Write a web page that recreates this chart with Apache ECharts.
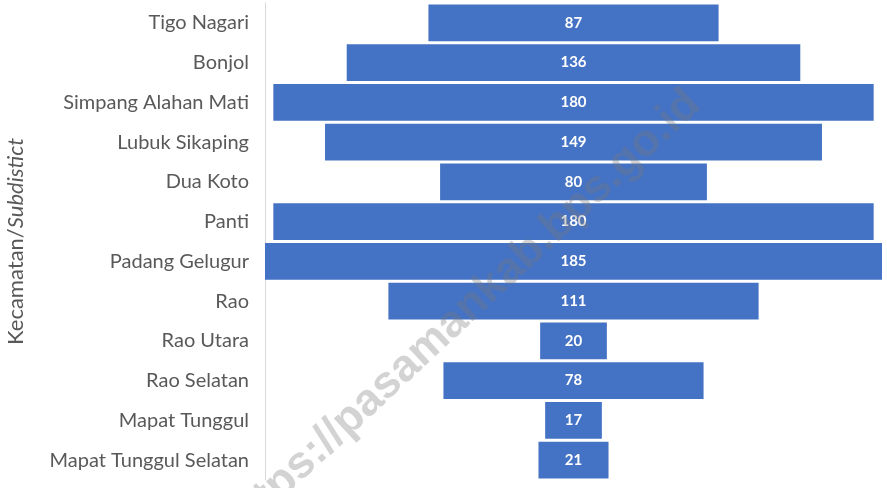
<!DOCTYPE html>
<html>
<head>
<meta charset="utf-8">
<script src="https://cdn.jsdelivr.net/npm/echarts@6/dist/echarts.min.js"></script>
<style>
    html, body { margin: 0; padding: 0; background: #fff; }
    #funnel_bar { width: 887px; height: 488px; }
</style>
</head>
<body>
<div id="funnel_bar"></div>
<script>
// Data
var categories = ['Tigo Nagari', 'Bonjol', 'Simpang Alahan Mati', 'Lubuk Sikaping', 'Dua Koto', 'Panti',
    'Padang Gelugur', 'Rao', 'Rao Utara', 'Rao Selatan', 'Mapat Tunggul', 'Mapat Tunggul Selatan'];
var values = [87, 136, 180, 149, 80, 180, 185, 111, 20, 78, 17, 21];
var axisMax = 185;

// Invisible offset so every bar sits centred
var offsets = values.map(function(v) { return (axisMax - v) / 2; });

var chartEl = document.getElementById('funnel_bar');
var chart = echarts.init(chartEl);

chart.setOption({
    animation: false,
    textStyle: {
        fontFamily: 'Lato, sans-serif'
    },
    grid: {
        left: 265,
        right: 5,
        top: 3,
        bottom: 8,
        containLabel: false,
        outerBoundsMode: 'none'
    },
    xAxis: {
        type: 'value',
        min: 0,
        max: axisMax,
        show: false
    },
    yAxis: {
        type: 'category',
        inverse: true,
        data: categories,
        name: '{a|Kecamatan/}{b|Subdistict}',
        nameLocation: 'middle',
        nameGap: 238,
        nameRotate: 90,
        nameTextStyle: {
            rich: {
                a: { fontSize: 22, color: '#595959', fontFamily: 'Lato, sans-serif' },
                b: { fontSize: 22, color: '#595959', fontStyle: 'italic', fontFamily: 'Lato, sans-serif' }
            }
        },
        axisLine: {
            lineStyle: { color: '#d9d9d9', width: 1 }
        },
        axisTick: { show: false },
        axisLabel: {
            color: '#595959',
            fontSize: 20,
            margin: 16
        }
    },
    series: [
        {
            type: 'bar',
            stack: 'total',
            data: offsets,
            itemStyle: { color: 'transparent' },
            barCategoryGap: '7%',
            silent: true
        },
        {
            type: 'bar',
            stack: 'total',
            data: values,
            itemStyle: { color: '#4472c4' },
            barCategoryGap: '7%',
            label: {
                show: true,
                position: 'inside',
                color: '#fff',
                fontWeight: 'bold',
                fontSize: 15
            }
        }
    ],
    graphic: [{
        type: 'text',
        x: 694,
        y: 98,
        rotation: Math.PI * 43 / 180,
        z: 100,
        style: {
            text: 'https://pasamankab.bps.go.id',
            font: 'bold 45px "Liberation Sans", Arial, sans-serif',
            fill: 'rgba(120,120,120,0.33)',
            align: 'right',
            verticalAlign: 'middle'
        }
    }]
});
</script>
</body>
</html>
